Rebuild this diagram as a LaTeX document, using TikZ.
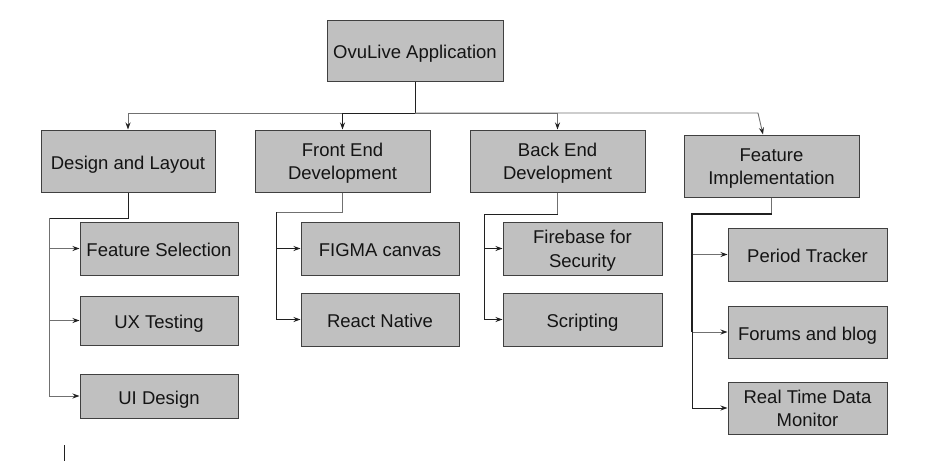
\documentclass[tikz,border=0pt]{standalone}
\usepackage{fontspec}
\setmainfont{Liberation Sans}
\usetikzlibrary{arrows.meta}
\definecolor{boxfill}{HTML}{C0C0C0}
\definecolor{boxline}{HTML}{404040}
\definecolor{linedark}{HTML}{202020}
\definecolor{linegray}{HTML}{707070}
\begin{document}
\begin{tikzpicture}[x=1pt,y=-1pt,
  box/.style={draw=boxline, fill=boxfill, line width=1pt, inner sep=2pt, align=center,
    text=black!92, font=\fontsize{18.5}{23.5}\selectfont},
  one/.style={box, text height=17.2pt, text depth=1pt},
  two/.style={box, text height=39pt, text depth=1.5pt},
  conn/.style={draw=linedark, line width=0.9pt},
  conng/.style={draw=linegray, line width=0.9pt},
  arr/.style={-{Stealth[length=7pt,width=5pt,color=linedark]}}]
\useasboundingbox (0,0) rectangle (930,464);
% level 1
\node[one, minimum width=176pt, minimum height=61pt] (root) at (415,50.5) {OvuLive Application};
% level 2
\node[one, minimum width=174pt, minimum height=62pt] (design) at (128,161) {Design and Layout};
\node[two, minimum width=175pt, minimum height=62pt] (front) at (342.5,161) {Front End\\Development};
\node[two, minimum width=175pt, minimum height=62pt] (back) at (557.5,161) {Back End\\Development};
\node[two, minimum width=175pt, minimum height=62pt] (feat) at (771.5,166) {Feature\\Implementation};
% level 3 design
\node[one, minimum width=158pt, minimum height=53pt] (fsel) at (159,248.5) {Feature Selection};
\node[one, minimum width=158pt, minimum height=49pt] (ux) at (159,320.5) {UX Testing};
\node[one, minimum width=158pt, minimum height=44pt] (ui) at (159,396) {UI Design};
% level 3 front
\node[one, minimum width=158pt, minimum height=53pt] (figma) at (380,248.5) {FIGMA canvas};
\node[one, minimum width=158pt, minimum height=53pt] (react) at (380,319.5) {React Native};
% level 3 back
\node[two, minimum width=159pt, minimum height=53pt] (fire) at (582.5,248.5) {Firebase for\\Security};
\node[one, minimum width=159pt, minimum height=53pt] (script) at (582.5,319.5) {Scripting};
% level 3 feature
\node[one, minimum width=159pt, minimum height=53pt] (period) at (807.5,254.5) {Period Tracker};
\node[one, minimum width=159pt, minimum height=52pt] (forum) at (807.5,332) {Forums and blog};
\node[two, minimum width=159pt, minimum height=52pt] (rtdm) at (807.5,408) {Real Time Data\\Monitor};
% top connectors
\coordinate (top) at (415,113);
\coordinate (fcorner) at (758,113);
\draw[conn] (root.south) -- (top);
\draw[conng, arr] (top) -| (design.north);
\draw[conn, arr] (top) -| (front.north);
\draw[conng, arr] (top) -| (back.north);
\draw[conng, arr] (top) -- (fcorner) -- ([xshift=-8.5pt]feat.north);
% design children
\coordinate (d1) at (49,218);
\draw[conn] (design.south) |- (d1);
\draw[conng, arr] (d1) |- (fsel.west);
\draw[conng, arr] (d1) |- (ux.west);
\draw[conng, arr] (d1) |- (ui.west);
% front children
\coordinate (f1) at (276,212);
\draw[conng] (front.south) |- (f1);
\draw[conn, arr] (f1) |- (figma.west);
\draw[conn, arr] (f1) |- (react.west);
% back children
\coordinate (b1) at (484,214);
\draw[conng] (back.south) -- (back.south |- b1);
\draw[conn] (back.south |- b1) -- (b1);
\draw[conn, arr] (b1) |- (fire.west);
\draw[conn, arr] (b1) |- (script.west);
% feature children
\coordinate (p1) at (692,214);
\draw[conng] (feat.south) -- (feat.south |- p1);
\draw[conn, line width=1.4pt] (feat.south |- p1) -- (p1) -- (p1 |- forum.west);
\draw[conng, arr] (p1) |- (period.west);
\draw[conng, arr] (p1) |- (forum.west);
\draw[conn, arr] (p1) |- (rtdm.west);
% stray mark
\coordinate (m1) at (64,445);
\coordinate (m2) at (64,461);
\draw[conn] (m1) -- (m2);
\end{tikzpicture}
\end{document}
